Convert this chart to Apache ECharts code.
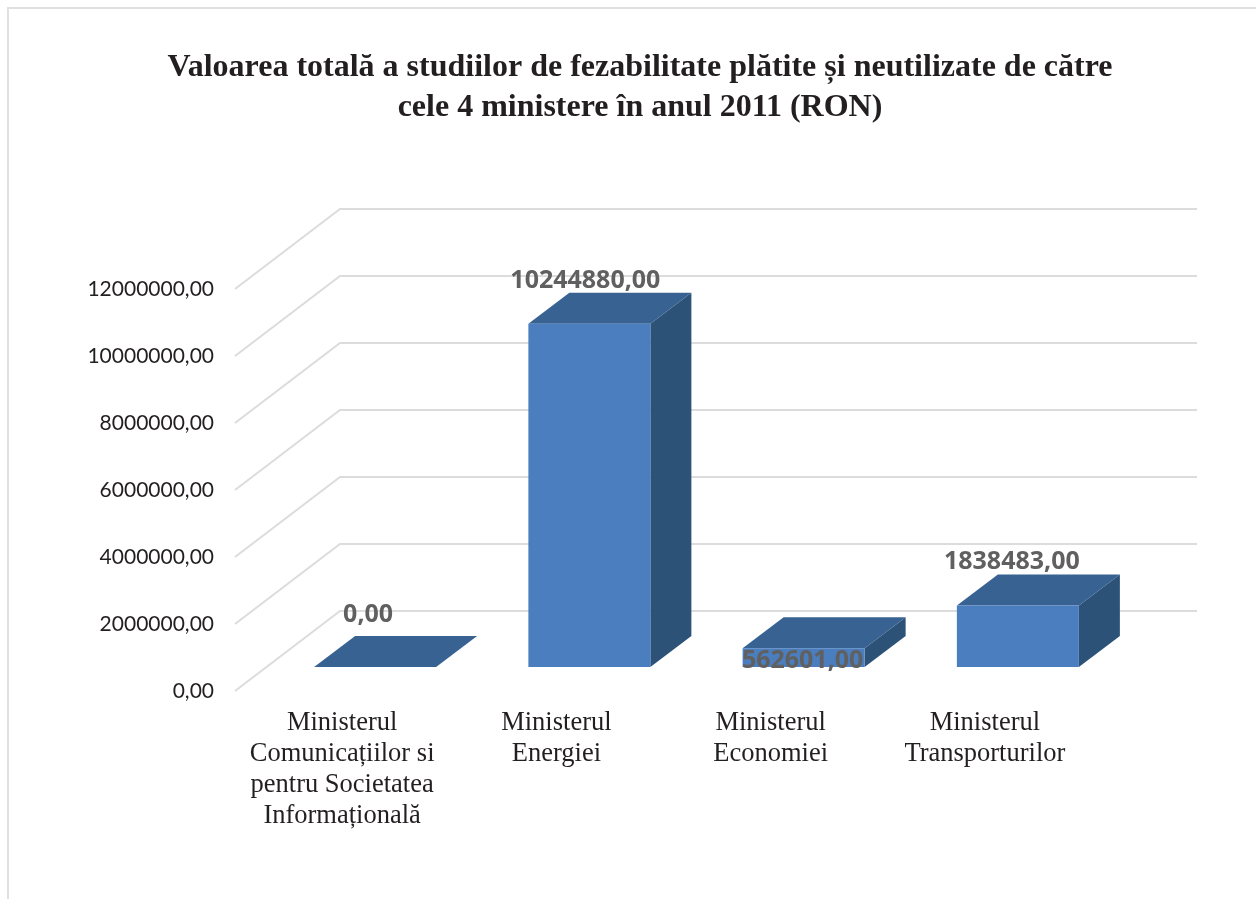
<!DOCTYPE html>
<html>
<head>
<meta charset="utf-8">
<title>Studii de fezabilitate</title>
<script src="https://cdn.jsdelivr.net/npm/echarts@6/dist/echarts.min.js"></script>
<style>
    html, body { margin: 0; padding: 0; background: #fff; }
    #main { width: 1256px; height: 899px; }
</style>
</head>
<body>
<div id="main"></div>
<script>
    // data
    const ministries = [
        'Ministerul\nComunicațiilor si\npentru Societatea\nInformațională',
        'Ministerul\nEnergiei',
        'Ministerul\nEconomiei',
        'Ministerul\nTransporturilor'
    ]
    const totals = [0, 10244880, 562601, 1838483]
    const valueTicks = [0, 2000000, 4000000, 6000000, 8000000, 10000000, 12000000]

    // fake 3d: how far the back wall sits from the front plane, in px
    const WALL_DX = 105, WALL_DY = -80
    // bars stand part way into the floor
    const BAR_DX = 33, BAR_DY = -24, DEPTH_DX = 41, DEPTH_DY = -31
    const BAR_W = 122
    // data labels were moved by hand in the original, one offset per bar [x, y]
    const labelShift = [[26, -52], [29, -43], [32, 13], [27, -44]]

    const fmt = v => v.toFixed(2).replace('.', ',')

    function renderWall(params, api) {
        const p = api.coord([0, api.value(1)])
        const sys = params.coordSys
        return {
            type: 'polyline',
            shape: { points: [
                [sys.x, p[1]],
                [sys.x + WALL_DX, p[1] + WALL_DY],
                [sys.x + sys.width + WALL_DX, p[1] + WALL_DY]
            ] },
            style: { fill: 'none', stroke: '#dcdcdc', lineWidth: 2 }
        }
    }

    function renderBar(params, api) {
        const top = api.coord([api.value(0), api.value(1)])
        const base = api.coord([api.value(0), 0])
        const x0 = top[0] + BAR_DX - BAR_W / 2
        const x1 = x0 + BAR_W
        const yt = top[1] + BAR_DY
        const yb = base[1] + BAR_DY
        const shift = labelShift[params.dataIndex]
        const kids = [
            { type: 'polygon', shape: { points: [[x1, yt], [x1 + DEPTH_DX, yt + DEPTH_DY], [x1 + DEPTH_DX, yb + DEPTH_DY], [x1, yb]] },
              style: { fill: '#2c5278' } },
            { type: 'polygon', shape: { points: [[x0, yt], [x0 + DEPTH_DX, yt + DEPTH_DY], [x1 + DEPTH_DX, yt + DEPTH_DY], [x1, yt]] },
              style: { fill: '#376292' } }
        ]
        if (yb > yt) {
            kids.push({ type: 'rect', shape: { x: x0, y: yt, width: BAR_W, height: yb - yt }, style: { fill: '#4a7ebf' } })
        }
        kids.push({
            type: 'text',
            style: {
                text: fmt(api.value(1)),
                x: top[0] + shift[0],
                y: yt + shift[1],
                align: 'center',
                verticalAlign: 'middle',
                fill: '#606060',
                font: 'bold 25px "Open Sans", sans-serif'
            }
        })
        return { type: 'group', children: kids }
    }

    const chart = echarts.init(document.getElementById('main'))
    chart.setOption({
        animation: false,
        backgroundColor: '#fff',
        title: {
            text: 'Valoarea totală a studiilor de fezabilitate plătite și neutilizate de către\ncele 4 ministere în anul 2011 (RON)',
            left: 635,
            top: 43,
            textAlign: 'center',
            textStyle: {
                fontFamily: '"Liberation Serif", serif',
                fontWeight: 'bold',
                fontSize: 32,
                lineHeight: 40,
                color: '#231f20'
            }
        },
        grid: { left: 235, top: 289, width: 857, height: 402 },
        xAxis: {
            type: 'category',
            data: ministries,
            axisLine: { show: false },
            axisTick: { show: false },
            axisLabel: {
                interval: 0,
                margin: 17,
                fontFamily: '"Liberation Serif", serif',
                fontSize: 26.5,
                lineHeight: 31,
                color: '#231f20',
                verticalAlign: 'top'
            }
        },
        yAxis: {
            type: 'value',
            min: 0,
            max: 12000000,
            interval: 2000000,
            axisLine: { show: false },
            axisTick: { show: false },
            splitLine: { show: false },
            axisLabel: {
                margin: 21,
                formatter: fmt,
                fontFamily: 'Lato, sans-serif',
                fontSize: 21,
                color: '#231f20',
                padding: [0, 0, 5, 0]
            }
        },
        graphic: [
            { type: 'polyline', silent: true, shape: { points: [[8, 899], [8, 8], [1256, 8]] },
              style: { fill: 'none', stroke: '#e0e0e0', lineWidth: 2 } }
        ],
        series: [
            {
                type: 'custom',
                renderItem: renderWall,
                data: valueTicks.map(v => [0, v]),
                encode: { x: 0, y: 1 },
                silent: true,
                z: 1
            },
            {
                type: 'custom',
                renderItem: renderBar,
                data: totals.map((v, i) => [i, v]),
                encode: { x: 0, y: 1 },
                silent: true,
                z: 2
            }
        ]
    })
</script>
</body>
</html>
